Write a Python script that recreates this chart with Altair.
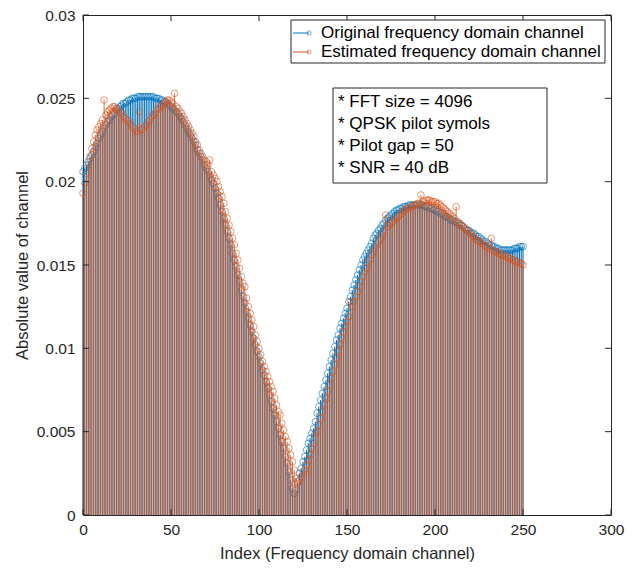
import altair as alt
import pandas as pd

# Sub-carrier index of the frequency-domain channel
index = list(range(251))

# |H(k)| of the true channel
original = [
    0.0206, 0.0208, 0.0210, 0.0212, 0.0214, 0.0216, 0.0218, 0.0221, 0.0223, 0.0226,
    0.0228, 0.0230, 0.0232, 0.0234, 0.0236, 0.0237, 0.0239, 0.0240, 0.0241, 0.0243,
    0.0244, 0.0245, 0.0246, 0.0247, 0.0247, 0.0248, 0.0249, 0.0249, 0.0250, 0.0250,
    0.0250, 0.0251, 0.0251, 0.0251, 0.0251, 0.0251, 0.0251, 0.0251, 0.0251, 0.0251,
    0.0251, 0.0250, 0.0250, 0.0250, 0.0249, 0.0249, 0.0248, 0.0248, 0.0247, 0.0246,
    0.0245, 0.0244, 0.0243, 0.0242, 0.0241, 0.0239, 0.0238, 0.0236, 0.0234, 0.0232,
    0.0230, 0.0228, 0.0226, 0.0224, 0.0222, 0.0219, 0.0217, 0.0215, 0.0213, 0.0210,
    0.0208, 0.0206, 0.0204, 0.0201, 0.0199, 0.0196, 0.0193, 0.0190, 0.0186, 0.0182,
    0.0178, 0.0174, 0.0170, 0.0166, 0.0162, 0.0157, 0.0153, 0.0149, 0.0144, 0.0140,
    0.0135, 0.0131, 0.0127, 0.0122, 0.0118, 0.0114, 0.0110, 0.0106, 0.0102, 0.0098,
    0.0095, 0.0091, 0.0087, 0.0084, 0.0080, 0.0076, 0.0072, 0.0068, 0.0064, 0.0060,
    0.0056, 0.0052, 0.0048, 0.0044, 0.0040, 0.0035, 0.0031, 0.0026, 0.0021, 0.0016,
    0.0013, 0.0015, 0.0020, 0.0025, 0.0028, 0.0032, 0.0035, 0.0039, 0.0043, 0.0046,
    0.0049, 0.0052, 0.0056, 0.0061, 0.0065, 0.0069, 0.0073, 0.0077, 0.0081, 0.0085,
    0.0089, 0.0093, 0.0097, 0.0101, 0.0105, 0.0108, 0.0112, 0.0115, 0.0118, 0.0121,
    0.0124, 0.0128, 0.0131, 0.0135, 0.0138, 0.0141, 0.0144, 0.0147, 0.0150, 0.0153,
    0.0155, 0.0157, 0.0159, 0.0161, 0.0163, 0.0166, 0.0168, 0.0169, 0.0171, 0.0172,
    0.0174, 0.0175, 0.0177, 0.0178, 0.0179, 0.0180, 0.0181, 0.0182, 0.0183, 0.0183,
    0.0184, 0.0184, 0.0185, 0.0185, 0.0185, 0.0186, 0.0186, 0.0186, 0.0186, 0.0186,
    0.0186, 0.0186, 0.0186, 0.0186, 0.0185, 0.0185, 0.0185, 0.0184, 0.0184, 0.0183,
    0.0183, 0.0182, 0.0182, 0.0181, 0.0181, 0.0180, 0.0179, 0.0179, 0.0178, 0.0177,
    0.0177, 0.0176, 0.0176, 0.0175, 0.0174, 0.0174, 0.0173, 0.0172, 0.0171, 0.0171,
    0.0170, 0.0169, 0.0169, 0.0168, 0.0167, 0.0167, 0.0166, 0.0165, 0.0164, 0.0164,
    0.0163, 0.0162, 0.0162, 0.0161, 0.0161, 0.0160, 0.0160, 0.0159, 0.0159, 0.0159,
    0.0159, 0.0159, 0.0159, 0.0159, 0.0159, 0.0160, 0.0160, 0.0160, 0.0161, 0.0161,
    0.0161,
]

# |H_est(k)| from pilot-based interpolation
estimated = [
    0.0193, 0.0199, 0.0205, 0.0210, 0.0215, 0.0220, 0.0224, 0.0228, 0.0231, 0.0233,
    0.0235, 0.0237, 0.0249, 0.0240, 0.0242, 0.0243, 0.0244, 0.0245, 0.0245, 0.0244,
    0.0243, 0.0242, 0.0241, 0.0239, 0.0238, 0.0237, 0.0236, 0.0235, 0.0233, 0.0232,
    0.0231, 0.0230, 0.0242, 0.0231, 0.0232, 0.0233, 0.0234, 0.0236, 0.0237, 0.0239,
    0.0240, 0.0241, 0.0243, 0.0244, 0.0245, 0.0246, 0.0247, 0.0248, 0.0249, 0.0249,
    0.0248, 0.0247, 0.0253, 0.0245, 0.0244, 0.0242, 0.0241, 0.0239, 0.0237, 0.0235,
    0.0233, 0.0231, 0.0229, 0.0227, 0.0224, 0.0222, 0.0219, 0.0217, 0.0215, 0.0213,
    0.0212, 0.0210, 0.0213, 0.0206, 0.0204, 0.0202, 0.0200, 0.0197, 0.0194, 0.0191,
    0.0187, 0.0182, 0.0178, 0.0174, 0.0170, 0.0166, 0.0162, 0.0157, 0.0153, 0.0148,
    0.0143, 0.0139, 0.0137, 0.0130, 0.0125, 0.0121, 0.0117, 0.0113, 0.0108, 0.0104,
    0.0100, 0.0096, 0.0092, 0.0089, 0.0086, 0.0083, 0.0080, 0.0077, 0.0074, 0.0070,
    0.0066, 0.0062, 0.0060, 0.0055, 0.0051, 0.0047, 0.0044, 0.0040, 0.0036, 0.0032,
    0.0027, 0.0022, 0.0019, 0.0021, 0.0023, 0.0025, 0.0027, 0.0030, 0.0033, 0.0036,
    0.0040, 0.0043, 0.0049, 0.0050, 0.0054, 0.0058, 0.0062, 0.0066, 0.0070, 0.0074,
    0.0078, 0.0082, 0.0086, 0.0090, 0.0094, 0.0098, 0.0102, 0.0106, 0.0110, 0.0113,
    0.0116, 0.0119, 0.0128, 0.0125, 0.0128, 0.0131, 0.0134, 0.0137, 0.0140, 0.0143,
    0.0146, 0.0148, 0.0151, 0.0153, 0.0156, 0.0158, 0.0160, 0.0162, 0.0164, 0.0166,
    0.0168, 0.0170, 0.0180, 0.0173, 0.0174, 0.0175, 0.0176, 0.0177, 0.0178, 0.0179,
    0.0180, 0.0181, 0.0182, 0.0183, 0.0184, 0.0184, 0.0185, 0.0185, 0.0186, 0.0186,
    0.0187, 0.0187, 0.0192, 0.0188, 0.0188, 0.0189, 0.0189, 0.0189, 0.0188, 0.0188,
    0.0188, 0.0187, 0.0187, 0.0186, 0.0185, 0.0184, 0.0183, 0.0182, 0.0181, 0.0180,
    0.0179, 0.0178, 0.0185, 0.0176, 0.0175, 0.0174, 0.0173, 0.0172, 0.0171, 0.0170,
    0.0169, 0.0168, 0.0167, 0.0166, 0.0165, 0.0164, 0.0164, 0.0163, 0.0162, 0.0161,
    0.0161, 0.0160, 0.0166, 0.0159, 0.0158, 0.0158, 0.0157, 0.0157, 0.0156, 0.0156,
    0.0155, 0.0155, 0.0154, 0.0154, 0.0153, 0.0153, 0.0152, 0.0152, 0.0151, 0.0151,
    0.0150,
]

legend_labels = ["Original frequency domain channel", "Estimated frequency domain channel"]
note_lines = ["* FFT size = 4096", "* QPSK pilot symols", "* Pilot gap = 50", "* SNR = 40 dB"]
x_ticks = [0, 50, 100, 150, 200, 250, 300]
y_ticks = [0, 0.005, 0.01, 0.015, 0.02, 0.025, 0.03]

BLUE = "#0072BD"
ORANGE = "#D95319"
INK = "#262626"
FONT = "Liberation Sans"
W, H = 528, 500
TICK = 6

df = pd.DataFrame({"idx": index, "orig": original, "est": estimated})

xs = alt.Scale(domain=[0, 300], nice=False, zero=False)
ys = alt.Scale(domain=[0, 0.03], nice=False)

X_TITLE = "Index (Frequency domain channel)"
Y_TITLE = "Absolute value of channel"

x_axis = alt.Axis(
    values=x_ticks, title=X_TITLE, grid=False, labelFlush=False,
    domain=False, ticks=False, tickSize=0, labelPadding=7,
    labelFontSize=15.5, titleFontSize=16.5, titleY=38, titleBaseline="middle",
)
y_axis = alt.Axis(
    values=y_ticks, format="~g", title=Y_TITLE, grid=False, labelFlush=False,
    domain=False, ticks=False, tickSize=0, labelPadding=8,
    labelFontSize=15.5, titleFontSize=16.5, titleX=-61, titleBaseline="middle",
)


def xq(field):
    return alt.X(field, type="quantitative", scale=xs, axis=x_axis, title=X_TITLE)


def yq(field):
    return alt.Y(field, type="quantitative", scale=ys, axis=y_axis, title=Y_TITLE)


base = alt.Chart(df)

blue_stems = base.mark_rule(color=BLUE, strokeWidth=1.1).encode(
    x=xq("idx"), y=yq("orig"), y2=alt.datum(0))
blue_marks = base.mark_point(shape="circle", filled=False, size=44, strokeWidth=0.6,
                             color=BLUE, opacity=1).encode(x=xq("idx"), y=yq("orig"))
orange_stems = base.mark_rule(color=ORANGE, strokeWidth=1, opacity=0.85).encode(
    x=xq("idx"), y=yq("est"), y2=alt.datum(0))
orange_marks = base.mark_point(shape="circle", filled=False, size=44, strokeWidth=0.6,
                               color=ORANGE, opacity=1).encode(x=xq("idx"), y=yq("est"))

# Inward tick marks on all four sides of the box
xt = alt.Chart(pd.DataFrame({"t": x_ticks}))
yt = alt.Chart(pd.DataFrame({"t": y_ticks}))
ticks = alt.layer(
    xt.mark_rule(color=INK, strokeWidth=1).encode(
        x=xq("t"), y=alt.value(H), y2=alt.value(H - TICK)),
    xt.mark_rule(color=INK, strokeWidth=1).encode(
        x=xq("t"), y=alt.value(0), y2=alt.value(TICK)),
    yt.mark_rule(color=INK, strokeWidth=1).encode(
        y=yq("t"), x=alt.value(0), x2=alt.value(TICK)),
    yt.mark_rule(color=INK, strokeWidth=1).encode(
        y=yq("t"), x=alt.value(W), x2=alt.value(W - TICK)),
)

# Legend box in the upper-right corner
leg_df = pd.DataFrame({
    "label": legend_labels,
    "color": [BLUE, ORANGE],
    "py": [18 + 19 * i for i in range(len(legend_labels))],
})
one = alt.Chart(pd.DataFrame({"k": [0]}))
legend_box = one.mark_rect(fill="white", stroke=INK, strokeWidth=1).encode(
    x=alt.value(208), x2=alt.value(522), y=alt.value(5), y2=alt.value(48))
leg = alt.Chart(leg_df)
legend_lines = leg.mark_rule(strokeWidth=1).encode(
    x=alt.value(210), x2=alt.value(226),
    y=alt.Y("py:Q", scale=None),
    color=alt.Color("color:N", scale=None),
)
legend_marks = leg.mark_point(shape="circle", filled=False, size=18, strokeWidth=0.8).encode(
    x=alt.value(226), y=alt.Y("py:Q", scale=None),
    color=alt.Color("color:N", scale=None),
)
legend_text = leg.mark_text(align="left", baseline="middle", font=FONT, fontSize=17,
                            color="black").encode(
    x=alt.value(238), y=alt.Y("py:Q", scale=None), text="label:N")

# Annotation box with the simulation settings
note_df = pd.DataFrame({
    "line": note_lines,
    "py": [87 + 22 * i for i in range(len(note_lines))],
})
note_box = one.mark_rect(fill="white", stroke=INK, strokeWidth=1).encode(
    x=alt.value(250), x2=alt.value(464), y=alt.value(73), y2=alt.value(168))
note_text = alt.Chart(note_df).mark_text(align="left", baseline="middle", font=FONT,
                                         fontSize=17, color="black").encode(
    x=alt.value(255), y=alt.Y("py:Q", scale=None), text="line:N")

chart = alt.layer(
    blue_stems, blue_marks, orange_stems, orange_marks, ticks,
    legend_box, legend_lines, legend_marks, legend_text,
    note_box, note_text,
).properties(
    width=W, height=H,
    autosize=alt.AutoSizeParams(type="none"),
    padding={"left": 83, "top": 15, "right": 28, "bottom": 53},
    background="white",
).configure_view(
    stroke=INK, strokeWidth=1,
).configure_axis(
    labelFont=FONT, titleFont=FONT, labelColor=INK, titleColor=INK,
    titleFontWeight="normal",
)

chart.save("out.html", embed_options={"renderer": "svg", "actions": False})
